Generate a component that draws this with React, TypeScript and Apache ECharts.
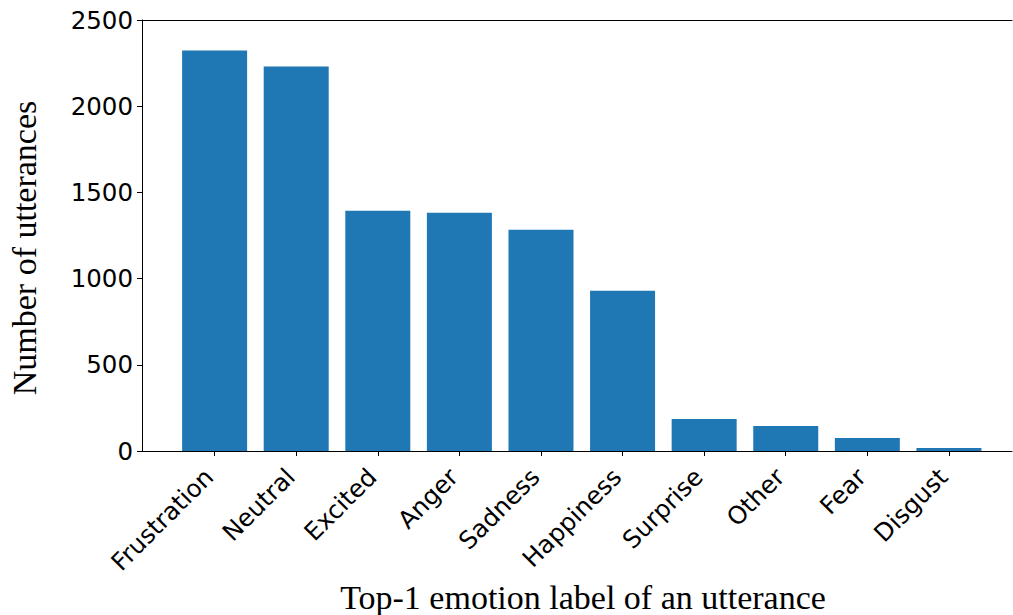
import React, { useEffect, useRef } from "react";
import * as echarts from "echarts";

const categories = ["Frustration", "Neutral", "Excited", "Anger", "Sadness", "Happiness", "Surprise", "Other", "Fear", "Disgust"];
const counts = [2323, 2230, 1394, 1382, 1283, 929, 186, 145, 75, 17];
const yTicks = [0, 500, 1000, 1500, 2000, 2500];
const xTitle = "Top-1 emotion label of an utterance";
const yTitle = "Number of utterances";

export default function App() {
  const ref = useRef<HTMLDivElement>(null);
  useEffect(() => {
    document.body.style.margin = "0";
    const chart = echarts.init(ref.current!, null, { renderer: "svg" });
    const positions = categories.map((_, i) => i);
    const tickFont = { fontFamily: "DejaVu Sans", fontSize: 24.5, color: "#000" };
    const titleFont = { fontFamily: "Liberation Serif", fontSize: 34, fill: "#000" };
    chart.setOption({
      animation: false,
      grid: { left: 142, right: 1, top: 20, bottom: 164 },
      xAxis: [
        {
          type: "value",
          min: -0.89,
          max: 9.773,
          splitLine: { show: false },
          axisLine: { show: true, onZero: false, lineStyle: { color: "#000", width: 1 } },
          axisTick: { show: true, customValues: positions, length: 5, lineStyle: { color: "#000" } },
          axisLabel: {
            ...tickFont,
            customValues: positions,
            rotate: 45,
            margin: 16,
            padding: [0, 8, 0, 0],
            formatter: (v: number) => categories[Math.round(v)] ?? "",
          },
        },
        {
          type: "value",
          position: "top",
          min: -0.89,
          max: 9.773,
          splitLine: { show: false },
          axisLine: { show: true, onZero: false, lineStyle: { color: "#000", width: 1 } },
          axisTick: { show: false },
          axisLabel: { show: false },
        },
      ],
      yAxis: {
        type: "value",
        min: yTicks[0],
        max: yTicks[yTicks.length - 1],
        interval: 500,
        splitLine: { show: false },
        axisLine: { show: true, onZero: false, lineStyle: { color: "#000", width: 1 } },
        axisTick: { show: true, length: 5, lineStyle: { color: "#000" } },
        axisLabel: { ...tickFont, margin: 9, formatter: (v: number) => String(v) },
      },
      graphic: [
        {
          type: "text",
          x: 583,
          y: 597,
          style: { text: xTitle, ...titleFont, textAlign: "center", textVerticalAlign: "middle" },
        },
        {
          type: "text",
          x: 24,
          y: 248,
          rotation: Math.PI / 2,
          style: { text: yTitle, ...titleFont, textAlign: "center", textVerticalAlign: "middle" },
        },
      ],
      series: [
        {
          type: "bar",
          xAxisIndex: 0,
          barWidth: 65,
          itemStyle: { color: "#1f77b4" },
          data: counts.map((v, i) => [positions[i], v]),
        },
      ],
    });
    return () => chart.dispose();
  }, []);
  return <div ref={ref} style={{ position: "absolute", left: 0, top: 0, width: 1013, height: 615 }} />;
}
